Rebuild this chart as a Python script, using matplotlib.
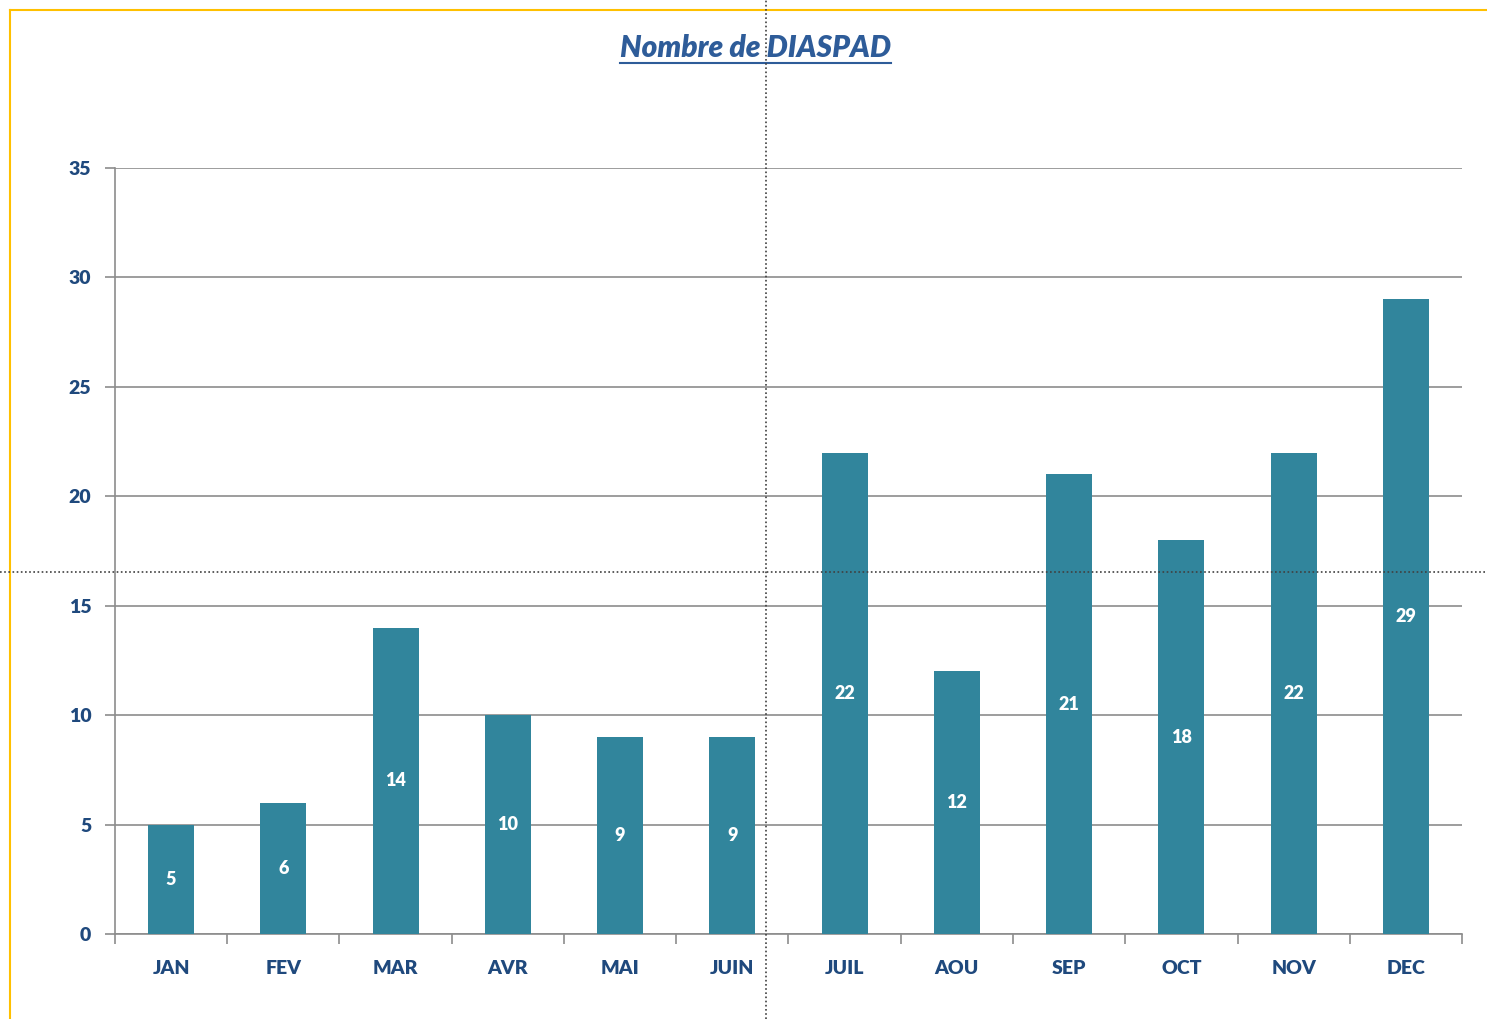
import matplotlib.pyplot as plt
from matplotlib.lines import Line2D

# ----------------------------- Data -----------------------------
months = ['JAN', 'FEV', 'MAR', 'AVR', 'MAI', 'JUIN', 'JUIL', 'AOU', 'SEP', 'OCT', 'NOV', 'DEC']
counts = [5, 6, 14, 10, 9, 9, 22, 12, 21, 18, 22, 29]
yticks = [0, 5, 10, 15, 20, 25, 30, 35]
title = 'Nombre de DIASPAD'

bar_color = '#31859C'
text_color = '#1F497D'
grid_color = '#8C8C8C'
plt.rcParams['font.family'] = ['Lato', 'DejaVu Sans']

fig = plt.figure(figsize=(14.87, 10.19), dpi=100)
ax = fig.add_axes([0.0773, 0.0834, 0.9059, 0.7517])

x = list(range(len(months)))
bars = ax.bar(x, counts, width=0.41, color=bar_color, zorder=3)
ax.bar_label(bars, labels=[str(c) for c in counts], label_type='center',
             color='white', fontsize=13, fontweight='heavy')

ax.set_xlim(-0.5, len(months) - 0.5)
ax.set_ylim(0, 35)
ax.set_yticks(yticks)
ax.set_yticklabels([str(v) for v in yticks], color=text_color, fontsize=14, fontweight='heavy')
ax.set_xticks(x)
ax.set_xticklabels(months, color=text_color, fontsize=14, fontweight='heavy')
ax.tick_params(axis='x', length=0, pad=19)
ax.tick_params(axis='y', length=7, color=grid_color, width=1.2, pad=10)
# category boundary ticks
ax.set_xticks([i - 0.5 for i in range(len(months) + 1)], minor=True)
ax.tick_params(axis='x', which='minor', length=7, color=grid_color, width=1.2)

ax.yaxis.grid(True, color=grid_color, linewidth=1.2, zorder=0)
for side in ['top', 'right']:
    ax.spines[side].set_visible(False)
for side in ['left', 'bottom']:
    ax.spines[side].set_color(grid_color)
    ax.spines[side].set_linewidth(1.2)

# title with underline
t = fig.text(0.508, 0.953, title, ha='center', va='center', fontsize=21.5,
             fontweight='heavy', fontstyle='italic', color='#2E5C99')
fig.canvas.draw()
bb = t.get_window_extent().transformed(fig.transFigure.inverted())
fig.add_artist(Line2D([bb.x0, bb.x1], [bb.y0 - 0.001, bb.y0 - 0.001],
                      transform=fig.transFigure, color='#2E5C99', linewidth=1.5))

# yellow frame edges
fig.add_artist(Line2D([10 / 1487, 1], [1 - 10 / 1019, 1 - 10 / 1019],
                      transform=fig.transFigure, color='#FFC000', linewidth=1.5))
fig.add_artist(Line2D([10 / 1487, 10 / 1487], [0, 1 - 10 / 1019],
                      transform=fig.transFigure, color='#FFC000', linewidth=1.5))

# dotted page-break lines
fig.add_artist(Line2D([766 / 1487, 766 / 1487], [0, 1], transform=fig.transFigure,
                      color='#404040', linewidth=1.2, linestyle=(0, (1, 1.5))))
fig.add_artist(Line2D([0, 1], [1 - 572 / 1019, 1 - 572 / 1019], transform=fig.transFigure,
                      color='#404040', linewidth=1.2, linestyle=(0, (1, 1.5))))

fig.savefig('out.png', dpi=100)
